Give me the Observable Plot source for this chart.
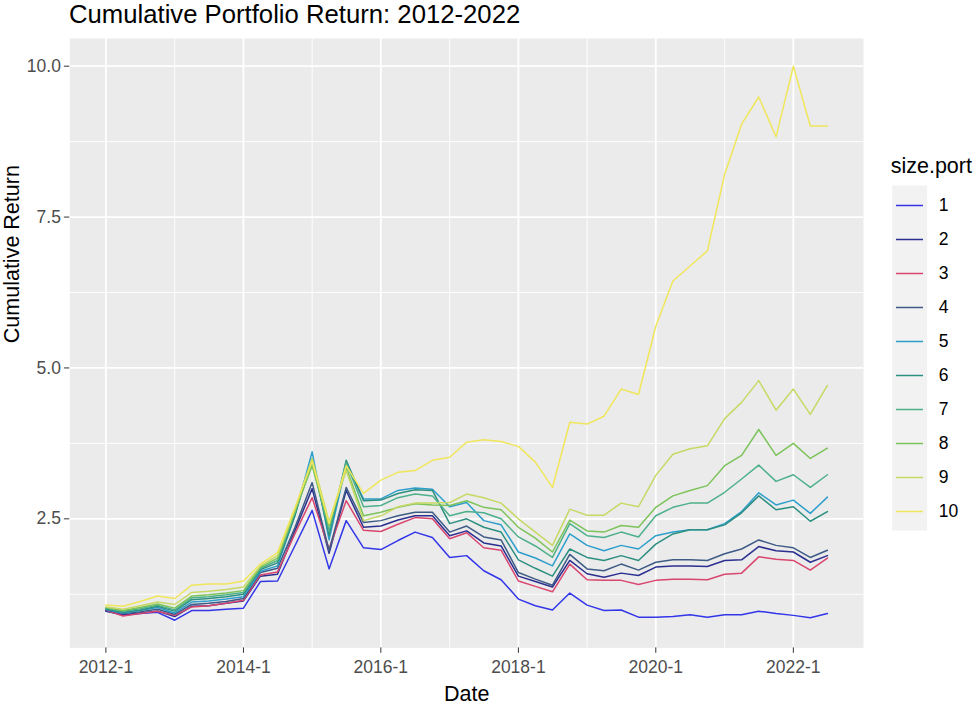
<!DOCTYPE html>
<html><head><meta charset="utf-8">
<script src="https://cdn.jsdelivr.net/npm/d3@7"></script>
<script src="https://cdn.jsdelivr.net/npm/@observablehq/plot@0.6"></script>
<style>
html,body{margin:0;padding:0;background:#fff;}
#wrap{position:relative;width:979px;height:705px;overflow:hidden;font-family:"Liberation Sans",Arial,sans-serif;}
#title{height:34px;line-height:29px;font-size:25.7px;padding-left:69px;color:#000;white-space:nowrap;}
#legend{position:absolute;left:870px;top:140px;}
</style></head><body>
<div id="wrap"><div id="title">Cumulative Portfolio Return: 2012-2022</div><div id="chart"></div><div id="legend"></div></div>
<script>
const quarters = [
  "2012-01-01","2012-04-01","2012-07-01","2012-10-01",
  "2013-01-01","2013-04-01","2013-07-01","2013-10-01",
  "2014-01-01","2014-04-01","2014-07-01","2014-10-01",
  "2015-01-01","2015-04-01","2015-07-01","2015-10-01",
  "2016-01-01","2016-04-01","2016-07-01","2016-10-01",
  "2017-01-01","2017-04-01","2017-07-01","2017-10-01",
  "2018-01-01","2018-04-01","2018-07-01","2018-10-01",
  "2019-01-01","2019-04-01","2019-07-01","2019-10-01",
  "2020-01-01","2020-04-01","2020-07-01","2020-10-01",
  "2021-01-01","2021-04-01","2021-07-01","2021-10-01",
  "2022-01-01","2022-04-01","2022-07-01"
];
const portNames = ["1","2","3","4","5","6","7","8","9","10"];
const port1 = [0.98,0.90,0.93,0.95,0.82,0.98,0.98,1.00,1.02,1.46,1.47,2.05,2.64,1.67,2.47,2.02,1.99,2.14,2.28,2.19,1.86,1.89,1.64,1.49,1.17,1.06,0.99,1.27,1.07,0.98,0.99,0.87,0.87,0.88,0.91,0.87,0.91,0.91,0.97,0.93,0.90,0.86,0.93];
const port2 = [0.97,0.91,0.94,0.97,0.88,1.05,1.06,1.10,1.14,1.55,1.58,2.30,3.00,1.93,2.97,2.36,2.38,2.48,2.55,2.55,2.22,2.30,2.10,2.05,1.55,1.46,1.37,1.81,1.59,1.53,1.60,1.56,1.70,1.72,1.72,1.71,1.81,1.82,2.04,1.97,1.95,1.78,1.89];
const port3 = [0.99,0.89,0.93,0.97,0.90,1.04,1.06,1.10,1.15,1.57,1.62,2.25,2.85,2.00,2.80,2.31,2.29,2.41,2.52,2.50,2.17,2.27,2.02,1.98,1.47,1.38,1.29,1.75,1.49,1.48,1.48,1.41,1.48,1.50,1.50,1.49,1.58,1.60,1.87,1.83,1.81,1.65,1.85];
const port4 = [0.99,0.93,0.96,1.00,0.92,1.08,1.10,1.13,1.18,1.61,1.68,2.35,3.10,1.97,3.02,2.44,2.47,2.55,2.61,2.61,2.28,2.38,2.20,2.15,1.61,1.50,1.40,1.91,1.67,1.64,1.75,1.65,1.78,1.82,1.82,1.81,1.92,2.00,2.15,2.06,2.02,1.86,1.98];
const port5 = [1.00,0.94,0.98,1.03,0.94,1.12,1.14,1.17,1.21,1.63,1.72,2.55,3.61,2.15,3.40,2.83,2.83,2.97,3.01,2.99,2.70,2.77,2.47,2.40,1.95,1.85,1.72,2.25,2.06,1.97,2.06,2.00,2.22,2.28,2.32,2.32,2.42,2.62,2.93,2.73,2.81,2.59,2.86];
const port6 = [1.01,0.95,0.99,1.05,0.97,1.16,1.18,1.21,1.25,1.66,1.77,2.55,3.50,2.22,3.47,2.80,2.81,2.92,2.98,2.97,2.42,2.50,2.36,2.28,1.82,1.68,1.55,2.00,1.86,1.81,1.89,1.81,2.08,2.25,2.32,2.32,2.40,2.60,2.88,2.65,2.70,2.46,2.62];
const port7 = [1.02,0.97,1.01,1.07,0.99,1.19,1.21,1.24,1.28,1.68,1.81,2.60,3.42,2.30,3.43,2.70,2.72,2.85,2.91,2.88,2.55,2.62,2.60,2.50,2.20,2.05,1.86,2.42,2.22,2.19,2.28,2.20,2.55,2.69,2.76,2.76,2.94,3.16,3.39,3.12,3.23,3.02,3.23];
const port8 = [1.03,0.98,1.03,1.09,1.02,1.22,1.24,1.27,1.31,1.70,1.85,2.62,3.38,2.38,3.35,2.55,2.61,2.69,2.75,2.73,2.72,2.80,2.69,2.65,2.36,2.18,1.95,2.48,2.30,2.28,2.39,2.36,2.69,2.88,2.97,3.05,3.38,3.55,3.98,3.55,3.75,3.50,3.67];
const port9 = [1.04,1.00,1.06,1.12,1.08,1.28,1.30,1.33,1.37,1.72,1.89,2.65,3.50,2.45,3.30,2.47,2.55,2.70,2.76,2.76,2.77,2.91,2.85,2.76,2.50,2.28,2.06,2.66,2.56,2.56,2.76,2.70,3.22,3.57,3.66,3.71,4.16,4.43,4.79,4.30,4.65,4.23,4.71];
const port10 = [1.07,1.05,1.13,1.22,1.18,1.40,1.42,1.42,1.47,1.75,1.94,2.68,3.45,2.42,3.38,2.92,3.14,3.27,3.30,3.47,3.52,3.77,3.81,3.78,3.70,3.44,3.02,4.10,4.07,4.20,4.65,4.56,5.69,6.44,6.69,6.94,8.21,9.04,9.49,8.83,10.00,9.01,9.01];
const seriesValues = [port1,port2,port3,port4,port5,port6,port7,port8,port9,port10];
const portColors = ["#3236E8","#2B2F8F","#D9466F","#3E5B86","#2E9FCC","#2C8F80","#4DB08B","#7CC35A","#C6D964","#F0E65C"];
const xMajorBreaks = ["2012-01-01","2014-01-01","2016-01-01","2018-01-01","2020-01-01","2022-01-01"];
const xMajorLabels = ["2012-1","2014-1","2016-1","2018-1","2020-1","2022-1"];
const xMinorBreaks = ["2013-01-01","2015-01-01","2017-01-01","2019-01-01","2021-01-01"];
const yMajorBreaks = [2.5, 5, 7.5, 10];
const yMajorLabels = ["2.5","5.0","7.5","10.0"];
const yMinorBreaks = [1.25, 3.75, 6.25, 8.75];

const table = [];
portNames.forEach((p, k) => seriesValues[k].forEach((v, i) => table.push({port: p, date: new Date(quarters[i]), value: v})));

const t0 = +new Date(quarters[0]), t1 = +new Date(quarters[quarters.length - 1]), tp = (t1 - t0) * 0.05;
const vmin = d3.min(table, d => d.value), vmax = d3.max(table, d => d.value), vp = (vmax - vmin) * 0.05;
const xMajorDates = xMajorBreaks.map(d => new Date(d));
const xLabelMap = new Map(xMajorDates.map((d, i) => [+d, xMajorLabels[i]]));
const yLabelMap = new Map(yMajorBreaks.map((d, i) => [d, yMajorLabels[i]]));
const font = '"Liberation Sans", Arial, sans-serif';
const colorScale = {type: "ordinal", domain: portNames, range: portColors};

const chart = Plot.plot({
  width: 872, height: 671,
  marginLeft: 69.3, marginRight: 9, marginTop: 4, marginBottom: 57.6,
  style: {fontFamily: font, background: "transparent", overflow: "visible"},
  x: {type: "utc", domain: [new Date(t0 - tp), new Date(t1 + tp)]},
  y: {domain: [vmin - vp, vmax + vp]},
  color: colorScale,
  marks: [
    Plot.frame({fill: "#EBEBEB", stroke: "none"}),
    Plot.ruleY(yMinorBreaks, {stroke: "#fff", strokeWidth: 0.9}),
    Plot.ruleX(xMinorBreaks.map(d => new Date(d)), {stroke: "#fff", strokeWidth: 0.9}),
    Plot.ruleY(yMajorBreaks, {stroke: "#fff", strokeWidth: 1.8}),
    Plot.ruleX(xMajorDates, {stroke: "#fff", strokeWidth: 1.8}),
    Plot.line(table, {x: "date", y: "value", z: "port", stroke: "port", strokeWidth: 1.5}),
    Plot.axisX({ticks: xMajorDates, tickFormat: d => xLabelMap.get(+d), tickSize: 5.4, tickPadding: 7, fontSize: 17.5, stroke: "#333333", fill: "#4D4D4D", label: null}),
    Plot.axisY({ticks: yMajorBreaks, tickFormat: d => yLabelMap.get(d), tickSize: 5.4, tickPadding: 3.5, fontSize: 17.5, stroke: "#333333", fill: "#4D4D4D", label: null}),
    Plot.text(["Date"], {frameAnchor: "bottom", dy: 52.6, lineAnchor: "bottom", fontSize: 21.5, fill: "#000"}),
    Plot.text(["Cumulative Return"], {frameAnchor: "left", rotate: -90, dx: -65.8, lineAnchor: "top", fontSize: 21.5, fill: "#000"})
  ]
});
document.getElementById("chart").appendChild(chart);

const legend = Plot.plot({
  width: 109, height: 400,
  marginLeft: 21.7, marginRight: 52.3, marginTop: 45, marginBottom: 10,
  style: {fontFamily: font, background: "transparent", overflow: "visible"},
  y: {type: "band", domain: portNames, padding: 0, axis: null},
  color: colorScale,
  marks: [
    Plot.frame({fill: "#F2F2F2", stroke: "none"}),
    Plot.tickY(portNames, {y: d => d, stroke: d => d, strokeWidth: 1.5, insetLeft: 4.3, insetRight: 3.7}),
    Plot.text(portNames, {y: d => d, text: d => d, frameAnchor: "right", dx: 11.6, textAnchor: "start", fontSize: 17.5, fill: "#000"}),
    Plot.text(["size.port"], {frameAnchor: "top-left", dx: -1.5, dy: -13, lineAnchor: "bottom", textAnchor: "start", fontSize: 21.5, fill: "#000"})
  ]
});
document.getElementById("legend").appendChild(legend);
</script></body></html>
